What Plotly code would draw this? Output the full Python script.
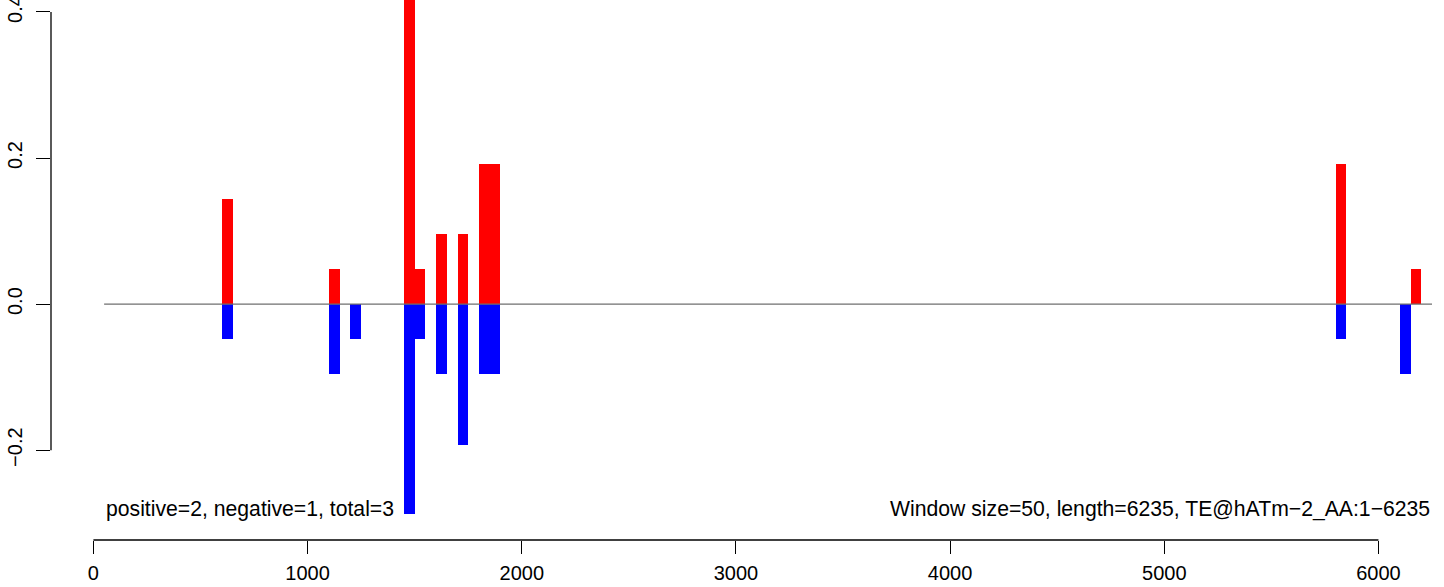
import plotly.graph_objects as go

# ---- data ----
WINDOW = 50
LENGTH = 6235
pos_starts = [600, 1100, 1450, 1500, 1600, 1700, 1800, 1850, 5800, 6150]
pos_values = [0.144, 0.048, 0.48, 0.048, 0.096, 0.096, 0.192, 0.192, 0.192, 0.048]
neg_starts = [600, 1100, 1200, 1450, 1500, 1600, 1700, 1800, 1850, 5800, 6100]
neg_values = [-0.048, -0.096, -0.048, -0.288, -0.048, -0.096, -0.193, -0.096, -0.096, -0.048, -0.096]
x_ticks = [0, 1000, 2000, 3000, 4000, 5000, 6000]
y_ticks = [-0.2, 0.0, 0.2, 0.4]
y_ticklabels = ["\u22120.2", "0.0", "0.2", "0.4"]
left_text = "positive=2, negative=1, total=3"
right_text = "Window size=50, length=6235, TE@hATm\u22122_AA:1\u22126235"

end_pos = -(-LENGTH // WINDOW) * WINDOW  # 6250

FONT = "Liberation Sans, Arial, Helvetica, sans-serif"

fig = go.Figure()
fig.add_trace(go.Bar(
    x=[s + WINDOW / 2 for s in pos_starts], y=pos_values, width=WINDOW,
    marker=dict(color="#ff0000", line=dict(width=0)), showlegend=False,
))
fig.add_trace(go.Bar(
    x=[s + WINDOW / 2 for s in neg_starts], y=neg_values, width=WINDOW,
    marker=dict(color="#0000ff", line=dict(width=0)), showlegend=False,
))
fig.add_trace(go.Scatter(
    x=[WINDOW, end_pos], y=[0, 0], mode="lines",
    line=dict(color="#6f6f6f", width=1.2), showlegend=False, hoverinfo="skip",
))

# axis lines spanning only the tick range (R style)
fig.add_shape(type="line", xref="x", yref="paper", x0=x_ticks[0], x1=x_ticks[-1],
              y0=0, y1=0, line=dict(color="black", width=1.3))
fig.add_shape(type="line", xref="paper", yref="y", x0=0, x1=0,
              y0=y_ticks[0], y1=y_ticks[-1], line=dict(color="black", width=1.3))

fig.add_annotation(x=WINDOW, y=-0.281, text=left_text, showarrow=False,
                   xanchor="left", yanchor="middle", font=dict(size=21.2, color="black", family=FONT))
fig.add_annotation(x=end_pos, y=-0.281, text=right_text, showarrow=False,
                   xanchor="right", yanchor="middle", font=dict(size=21.2, color="black", family=FONT))

fig.update_layout(
    width=1444, height=587,
    margin=dict(l=51, r=0, t=0, b=47, autoexpand=False),
    plot_bgcolor="white", paper_bgcolor="white",
    barmode="overlay", bargap=0,
    font=dict(family=FONT, size=20, color="black"),
    xaxis=dict(range=[-198, 6306], tickvals=x_ticks, ticktext=[str(v) for v in x_ticks],
               ticks="outside", ticklen=13, tickwidth=1.3, tickcolor="black",
               showline=False, showgrid=False, zeroline=False, ticklabelstandoff=2,
               ticklabeloverflow="allow", tickfont=dict(size=20, family=FONT)),
    yaxis=dict(range=[-0.323, 0.4164], tickvals=y_ticks, ticktext=y_ticklabels,
               ticks="outside", ticklen=14, tickwidth=1.3, tickcolor="black",
               tickangle=-90, showline=False, showgrid=False, zeroline=False,
               ticklabelstandoff=6, ticklabeloverflow="allow",
               tickfont=dict(size=20, family=FONT)),
)

fig.write_html("out.html", config={"displayModeBar": False},
               post_script="document.body.style.margin='0';document.body.style.overflow='hidden';")
